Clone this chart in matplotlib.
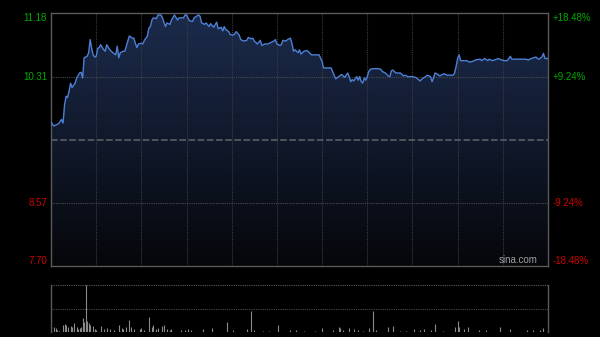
import matplotlib
matplotlib.use("Agg")
import matplotlib.pyplot as plt
import numpy as np
from matplotlib.patches import Polygon

# ---------------- data ----------------
minutes = [0, 1, 2, 4, 5, 6, 7, 8,
           9, 10, 11, 12, 13, 14, 16, 17, 19, 20, 21,
           22, 23, 24, 25, 26, 27, 28, 29, 30, 31, 32,
           33, 35, 36, 37, 39, 41, 43, 44, 45, 46,
           48, 49, 51, 52, 54, 55, 56, 57, 58, 60,
           61, 62, 64, 65, 66, 67, 68, 70, 71, 73,
           74, 76, 77, 79, 80, 82, 84, 85, 88, 89,
           90, 92, 94, 95, 98, 99, 100, 102, 103, 105,
           106, 108, 110, 111, 113, 114, 115, 116, 118, 119,
           121, 122, 123, 125, 126, 128, 130, 131, 133, 134,
           135, 137, 139, 140, 142, 144, 146, 148, 149, 150,
           152, 153, 154, 156, 157, 159, 160, 161, 162, 164,
           165, 166, 168, 170, 171, 173, 175, 178, 180, 181,
           184, 186, 187, 189, 191, 193, 195, 197, 198, 199,
           200, 201, 203, 204, 205, 206, 207, 208, 209, 210,
           211, 212, 214, 215, 217, 219, 220, 222, 224, 225,
           226, 227, 229, 230, 232, 234, 235, 237, 239, 240,
           242, 244, 245, 247, 248, 250, 252, 253, 254, 255,
           257, 258, 260, 261, 263, 265, 267, 268, 269, 270,
           271, 272, 274, 276, 278, 280, 282, 285, 286, 288,
           290, 291, 293, 296, 297, 299, 301, 303, 305, 306,
           308, 311, 315, 317, 319, 322, 323, 324, 326, 327, 328, 330]

prices = [9.69, 9.65, 9.63, 9.65, 9.66, 9.69, 9.72, 9.67,
          9.92, 10.04, 10.02, 10.11, 10.22, 10.16, 10.22, 10.29, 10.36, 10.37, 10.29,
          10.57, 10.58, 10.59, 10.64, 10.82, 10.70, 10.61, 10.58, 10.59, 10.70, 10.71,
          10.75, 10.68, 10.66, 10.75, 10.68, 10.64, 10.61, 10.73, 10.57, 10.64,
          10.66, 10.66, 10.80, 10.87, 10.84, 10.84, 10.77, 10.71, 10.76, 10.77,
          10.76, 10.81, 10.87, 10.98, 11.00, 11.09, 11.12, 11.11, 11.16, 11.16,
          11.12, 11.00, 11.05, 11.03, 11.09, 11.16, 11.09, 11.12, 11.12, 11.16,
          11.16, 11.08, 11.07, 11.12, 11.16, 11.14, 11.05, 11.03, 11.05, 11.00,
          11.04, 10.99, 11.06, 10.97, 10.99, 10.94, 11.00, 10.96, 10.93, 10.89,
          10.88, 10.90, 10.93, 10.88, 10.82, 10.80, 10.81, 10.85, 10.83, 10.84,
          10.80, 10.76, 10.81, 10.74, 10.76, 10.76, 10.78, 10.80, 10.82, 10.76,
          10.74, 10.75, 10.81, 10.80, 10.82, 10.84, 10.77, 10.66, 10.68, 10.64,
          10.68, 10.62, 10.66, 10.67, 10.65, 10.61, 10.61, 10.61, 10.52, 10.43,
          10.43, 10.43, 10.38, 10.28, 10.31, 10.34, 10.30, 10.36, 10.31, 10.24,
          10.27, 10.25, 10.31, 10.26, 10.31, 10.24, 10.22, 10.29, 10.26, 10.31,
          10.38, 10.41, 10.42, 10.42, 10.42, 10.41, 10.38, 10.36, 10.32, 10.31,
          10.39, 10.40, 10.36, 10.36, 10.36, 10.32, 10.33, 10.31, 10.31, 10.31,
          10.30, 10.27, 10.25, 10.29, 10.30, 10.33, 10.31, 10.24, 10.29, 10.36,
          10.34, 10.32, 10.34, 10.35, 10.33, 10.33, 10.33, 10.36, 10.45, 10.56,
          10.61, 10.53, 10.53, 10.53, 10.51, 10.52, 10.54, 10.55, 10.53, 10.56,
          10.53, 10.55, 10.53, 10.55, 10.56, 10.54, 10.53, 10.53, 10.59, 10.55,
          10.55, 10.55, 10.55, 10.54, 10.56, 10.58, 10.56, 10.55, 10.58, 10.63, 10.56, 10.56]

vol_minutes = [0, 2, 3, 4, 5, 8, 9, 10, 11, 13, 14, 15, 17, 18, 19,
               20, 21, 22, 23, 24, 25, 26, 28, 29, 30, 33, 35, 37, 39, 42,
               45, 47, 48, 50, 52, 53, 55, 59, 60, 62, 65, 67, 68, 70, 71,
               74, 75, 77, 79, 80, 86, 89, 91, 93, 101, 107, 117, 121, 130, 133,
               135, 141, 145, 151, 159, 163, 168, 175, 180, 187, 191, 192, 194, 198, 201,
               204, 207, 211, 214, 216, 224, 227, 232, 236, 241, 245, 248, 252, 255, 260,
               268, 270, 271, 274, 277, 284, 289, 298, 305, 316, 320, 325, 327]
volumes = [15, 11, 8, 4, 3, 15, 17, 15, 11, 13, 10, 19, 10, 6, 8,
           10, 29, 22, 100, 24, 19, 15, 13, 6, 4, 13, 6, 8, 6, 4,
           15, 8, 6, 10, 26, 11, 6, 6, 8, 4, 31, 10, 15, 6, 8,
           13, 15, 6, 4, 6, 4, 4, 7, 4, 6, 8, 21, 4, 6, 45,
           4, 3, 3, 14, 4, 4, 3, 3, 9, 4, 11, 8, 4, 8, 6,
           4, 3, 9, 45, 4, 10, 13, 3, 3, 6, 4, 6, 4, 17, 3,
           10, 24, 10, 6, 10, 4, 4, 10, 6, 4, 4, 4, 8]

price_ticks = [11.18, 10.31, 8.57, 7.70]
price_labels = ["11.18", "10.31", "8.57", "7.70"]
pct_labels = ["+18.48%", "+9.24%", "-9.24%", "-18.48%"]
prev_close = 9.44
y_min, y_max = 7.70, 11.18
session_len = 330
vol_max = 100

# ---------------- styling ----------------
plt.rcParams['font.family'] = ['Liberation Sans', 'DejaVu Sans']
GREEN = '#00a800'
RED = '#d00000'
BORDER = '#5a5a5a'
GRID = '#3c3c3c'

fig = plt.figure(figsize=(6, 3.37), dpi=100, facecolor='black')

# ---------------- price panel ----------------
ax = fig.add_axes([0.085, 0.2107, 0.8283, 0.7493])
ax.set_facecolor('black')
ax.set_xlim(0, session_len)
ax.set_ylim(y_min, y_max)

grad = np.linspace(1, 0, 256).reshape(-1, 1, 1)
top_c = np.array([0.11, 0.17, 0.30])
bot_c = np.array([0.02, 0.025, 0.04])
img = bot_c + (top_c - bot_c) * grad
im = ax.imshow(img, extent=[0, session_len, y_min, y_max], aspect='auto',
               origin='upper', zorder=1, interpolation='bilinear')
poly_xy = np.column_stack([[minutes[0]] + minutes + [minutes[-1]],
                           [y_min] + prices + [y_min]])
poly = Polygon(poly_xy, closed=True, transform=ax.transData)
im.set_clip_path(poly)

for t in range(30, session_len, 30):
    ax.axvline(t, color=GRID, lw=0.8, ls=(0, (1, 1)), zorder=2)
for p in [price_ticks[1], price_ticks[2]]:
    ax.axhline(p, color='#4a4a4a', lw=0.8, ls=(0, (1, 1)), zorder=2)
ax.axhline(prev_close, color='#585f68', lw=1.2, ls=(0, (4, 1.5)), zorder=2)

ax.plot(minutes, prices, color='#4d80d4', lw=1.0, zorder=4)

for s in ax.spines.values():
    s.set_color(BORDER)
    s.set_linewidth(1.0)
ax.set_xticks([])
ax.set_yticks([])

ytr = ax.get_yaxis_transform()
for i, (p, lab, pct) in enumerate(zip(price_ticks, price_labels, pct_labels)):
    col = GREEN if p > prev_close else RED
    va = 'center'
    if i == 0:
        va = 'top'
    elif i == len(price_ticks) - 1:
        va = 'bottom'
    ax.text(-0.008, p, lab, transform=ytr, ha='right', va=va, color=col, fontsize=7)
    ax.text(1.010, p, pct, transform=ytr, ha='left', va=va, color=col, fontsize=7)

ax.text(0.94, 0.005, "sina.com", transform=ax.transAxes, ha='center', va='bottom',
        color='#a0a0a0', fontsize=7, zorder=5)

# ---------------- volume panel ----------------
vax = fig.add_axes([0.085, 0.0148, 0.8283, 0.1395])
vax.set_facecolor('black')
vax.set_xlim(0, session_len)
vax.set_ylim(0, vol_max)
vax.vlines(vol_minutes, 0, volumes, color='#8a8a8a', lw=0.8)
vax.axhline(vol_max, color='#5a5a5a', lw=0.8, ls=(0, (1, 1)))
vax.axhline(vol_max / 2, color='#4a4a4a', lw=0.8, ls=(0, (1, 1)))
for k in ['top', 'bottom']:
    vax.spines[k].set_visible(False)
for k in ['left', 'right']:
    vax.spines[k].set_color(BORDER)
    vax.spines[k].set_linewidth(1.0)
vax.set_xticks([])
vax.set_yticks([])

fig.savefig('out.png', dpi=100, facecolor='black')
